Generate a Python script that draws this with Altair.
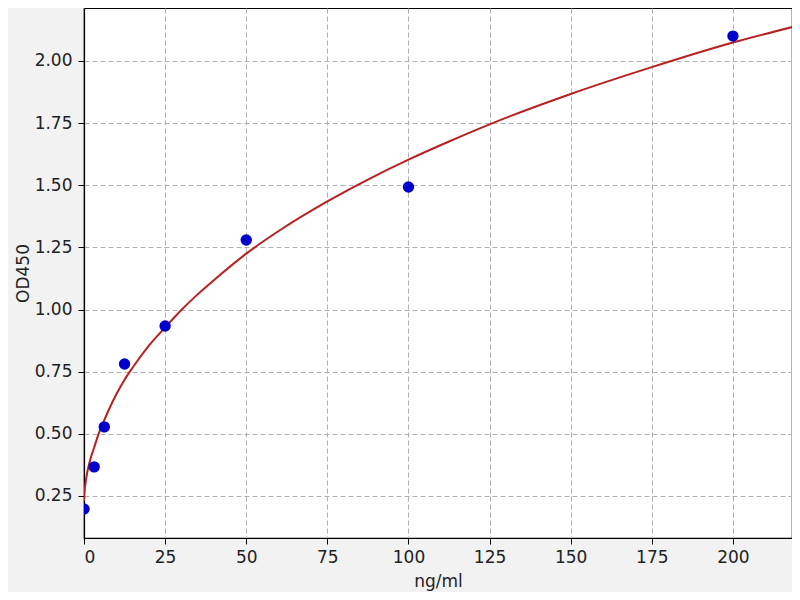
import altair as alt
import pandas as pd

# standard points
conc = [0, 3.125, 6.25, 12.5, 25, 50, 100, 200]
od = [0.198, 0.367, 0.528, 0.781, 0.934, 1.280, 1.493, 2.100]

# fitted curve
curve_x = [0, 0.25, 0.5, 1, 2, 3.125, 4.5, 6.25, 8, 10, 12.5, 15, 20, 25, 30, 35,
           40, 50, 60, 75, 87.5, 100, 112.5, 125, 150, 175, 200, 220]
curve_y = [0.23, 0.28, 0.305, 0.345, 0.40, 0.445, 0.50, 0.555, 0.607, 0.66,
           0.718, 0.767, 0.855, 0.928, 0.998, 1.061, 1.118, 1.225, 1.316, 1.435,
           1.523, 1.603, 1.676, 1.745, 1.867, 1.975, 2.074, 2.142]

x_ticks = [0, 25, 50, 75, 100, 125, 150, 175, 200]
y_ticks = [0.25, 0.50, 0.75, 1.00, 1.25, 1.50, 1.75, 2.00]

pts = pd.DataFrame({"x": conc, "y": od})
crv = pd.DataFrame({"x": curve_x, "y": curve_y})

xscale = alt.Scale(domain=[0, 218.2], nice=False, zero=False)
yscale = alt.Scale(domain=[0.081, 2.213], nice=False, zero=False)

common = dict(grid=True, gridDash=[5, 3], gridColor="#b0b0b0", gridWidth=1,
              domain=True, domainColor="black", domainWidth=1.2,
              tickColor="black", tickSize=6, tickWidth=1,
              labelFontSize=17, titleFontSize=17, labelColor="#222222",
              titleColor="#222222", titleFontWeight="normal",
              labelFont="DejaVu Sans", titleFont="DejaVu Sans")

xaxis = alt.Axis(title="ng/ml", values=x_ticks, format="d", labelPadding=5,
                 titlePadding=8, **common)
yaxis = alt.Axis(title="OD450", values=y_ticks, format=".2f", labelPadding=6,
                 titlePadding=2, **common)

line = alt.Chart(crv).mark_line(color="#b82020", strokeWidth=2,
                                interpolate="monotone", clip=True).encode(
    x=alt.X("x:Q", scale=xscale, axis=xaxis),
    y=alt.Y("y:Q", scale=yscale, axis=yaxis),
)

dots = alt.Chart(pts).mark_circle(color="#0000cc", opacity=1, size=130,
                                  clip=True).encode(
    x=alt.X("x:Q", scale=xscale),
    y=alt.Y("y:Q", scale=yscale),
)

chart = alt.layer(line, dots).properties(
    width=708, height=530,
    background="#f2f2f2",
    autosize=alt.AutoSizeParams(type="none"),
    padding={"left": 76, "top": 0, "right": 0, "bottom": 54},
).configure_view(stroke="black", strokeWidth=1.2, fill="white")

chart.save("out.html", embed_options={"renderer": "svg", "actions": False})
